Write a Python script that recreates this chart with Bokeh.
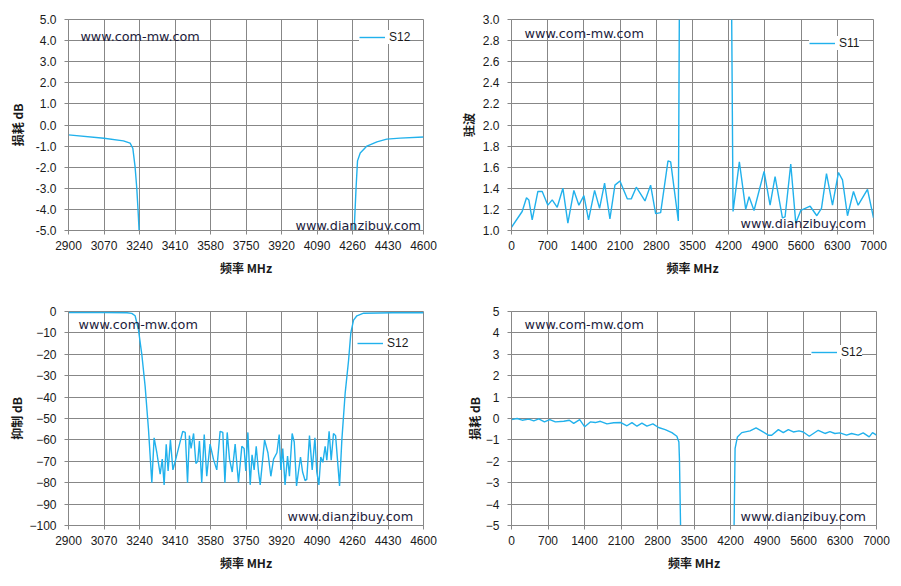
from bokeh.plotting import figure
from bokeh.layouts import column, row
from bokeh.models import Range1d, FixedTicker, NumeralTickFormatter, Label
from bokeh.embed import file_html
from bokeh.resources import INLINE

nan = float("nan")

# ---------------- data ----------------
# Panel 1: S12 insertion loss, zoom 2900-4600 MHz
p1_freq = [2900, 3070, 3163, 3195, 3208, 3219, 3227, 3234, 3238,
           nan,
           4268, 4277, 4284, 4297, 4329, 4377, 4424, 4488, 4600]
p1_s12 = [-0.47, -0.63, -0.75, -0.86, -1.1, -2.0, -3.0, -4.2, -5.0,
          nan,
          -5.0, -3.0, -1.7, -1.33, -1.0, -0.8, -0.67, -0.62, -0.57]

# Panel 2: S11 VSWR, 0-7000 MHz
p2_freq = [0, 206, 290, 335, 400, 510, 594, 703, 787, 884, 994, 1090, 1206, 1303,
           1400, 1490, 1607, 1703, 1800, 1903, 2000, 2097, 2239, 2316, 2413, 2581,
           2690, 2787, 2884, 3026, 3078, 3226, 3245,
           nan,
           4258, 4284, 4406, 4529, 4594, 4690, 4884, 5000, 5097, 5239, 5290, 5400,
           5497, 5594, 5775, 5904, 5994, 6091, 6207, 6323, 6400, 6497, 6613, 6703,
           6884, 7000]
p2_s11 = [1.03, 1.18, 1.31, 1.29, 1.10, 1.37, 1.37, 1.24, 1.29, 1.22, 1.40, 1.07, 1.38, 1.24,
          1.33, 1.10, 1.38, 1.21, 1.45, 1.11, 1.43, 1.47, 1.30, 1.30, 1.41, 1.28,
          1.43, 1.16, 1.17, 1.66, 1.65, 1.09, 3.0,
          nan,
          3.0, 1.18, 1.65, 1.20, 1.32, 1.19, 1.56, 1.24, 1.51, 1.12, 1.13, 1.63,
          1.07, 1.19, 1.23, 1.14, 1.21, 1.54, 1.24, 1.55, 1.48, 1.14, 1.37, 1.24,
          1.39, 1.12]

# Panel 3: S12 rejection, 2900-4600 MHz
p3_freq = [2900, 3070, 3180, 3203, 3219, 3235, 3251, 3267, 3283, 3299,
           3310, 3323, 3339, 3349, 3358, 3368, 3377, 3388, 3400, 3411, 3447, 3459,
           3470, 3479, 3487, 3499, 3510, 3519, 3527, 3538, 3550, 3562, 3578, 3594,
           3610, 3626, 3639, 3649, 3660, 3671, 3684, 3698, 3714, 3730, 3741, 3749,
           3759, 3770, 3779, 3789, 3799, 3810, 3818, 3839, 3855, 3869, 3882, 3898,
           3909, 3917, 3926, 3937, 3949, 3958, 3971, 3981, 3992, 4001, 4011, 4021,
           4033, 4041, 4054, 4067, 4080, 4089, 4099, 4108, 4118, 4129, 4137, 4148,
           4158, 4169, 4179, 4198, 4209, 4225, 4241, 4252, 4265, 4281, 4313, 4450, 4600]
p3_s12 = [-0.5, -0.5, -0.6, -0.9, -2.0, -8.5, -20, -35, -55, -80,
          -59, -66, -76, -69, -81, -62, -74.5, -60, -74, -70, -56, -56.5,
          -80, -58, -64, -57, -71, -70, -60.5, -80, -57.5, -77, -62, -69,
          -74, -56, -56.5, -80, -56.5, -69, -75, -62, -80, -63, -64, -74.5,
          -56.5, -81, -67, -74, -63, -75, -81, -60, -66, -77, -69, -66,
          -57.5, -74, -64, -81, -67.5, -77, -57, -61, -81.5, -75, -68, -75,
          -79, -78.5, -58, -74, -59, -75, -81, -68, -70.5, -63, -69.5, -56,
          -69.5, -57, -58, -81.5, -60, -38, -23, -10, -4, -2, -0.8, -0.6, -0.6]

# Panel 4: S12 insertion loss, 0-7000 MHz
p4_freq = [0, 108, 204, 332, 427, 523, 632, 734, 842, 1002, 1110, 1193, 1308, 1404,
           1512, 1608, 1704, 1831, 1959, 2099, 2214, 2310, 2406, 2501, 2597, 2712,
           2820, 2948, 3076, 3171, 3210, 3222, 3242,
           nan,
           4269, 4288, 4333, 4416, 4575, 4690, 4799, 4926, 4990, 5118, 5213, 5309,
           5405, 5513, 5596, 5711, 5883, 6011, 6107, 6202, 6298, 6426, 6522, 6649,
           6745, 6860, 6924, 7000]
p4_s12 = [-0.05, 0.0, -0.08, -0.03, -0.11, -0.02, -0.16, -0.05, -0.16, -0.13, -0.08, -0.23, -0.05, -0.39,
          -0.16, -0.19, -0.13, -0.25, -0.20, -0.19, -0.34, -0.19, -0.36, -0.22, -0.36, -0.25,
          -0.42, -0.52, -0.66, -0.83, -1.1, -2.0, -5.0,
          nan,
          -5.0, -1.4, -0.86, -0.66, -0.58, -0.44, -0.59, -0.78, -0.78, -0.52, -0.66, -0.52,
          -0.63, -0.58, -0.63, -0.83, -0.55, -0.70, -0.61, -0.70, -0.67, -0.78, -0.70, -0.78,
          -0.67, -0.86, -0.66, -0.78]

# ticks
zoom_xticks = [2900, 3070, 3240, 3410, 3580, 3750, 3920, 4090, 4260, 4430, 4600]
wide_xticks = [0, 700, 1400, 2100, 2800, 3500, 4200, 4900, 5600, 6300, 7000]
p1_yticks = [-5, -4, -3, -2, -1, 0, 1, 2, 3, 4, 5]
p2_yticks = [1.0, 1.2, 1.4, 1.6, 1.8, 2.0, 2.2, 2.4, 2.6, 2.8, 3.0]
p3_yticks = [0, -10, -20, -30, -40, -50, -60, -70, -80, -90, -100]
p4_yticks = [-5, -4, -3, -2, -1, 0, 1, 2, 3, 4, 5]

x_title = "频率 MHz"
wm1 = "www.com-mw.com"
wm2 = "www.dianzibuy.com"

LINE = "#21B1EC"
GRID = "#878787"
TXT = "#1a1a1a"
WM = "#1c1c3c"


def make(width, height, bl, br, bt, bb, xr, yr, xticks, yticks, fmt, ytitle, ts,
         xs, ys, series, leg_loc, leg_pad, wm_a, wm_b):
    p = figure(width=width, height=height, output_backend="svg", toolbar_location=None,
               min_border_left=bl, min_border_right=br, min_border_top=bt, min_border_bottom=bb,
               x_range=Range1d(*xr), y_range=Range1d(*yr))
    p.outline_line_color = GRID
    p.background_fill_color = "white"
    p.border_fill_color = "white"
    p.line(xs, ys, line_color=LINE, line_width=1.4, legend_label=series)
    for ax in (p.xaxis, p.yaxis):
        ax.axis_line_color = GRID
        ax.major_tick_line_color = GRID
        ax.major_tick_out = 4
        ax.major_tick_in = 0
        ax.minor_tick_line_color = None
        ax.major_label_text_font = "Liberation Sans"
        ax.major_label_text_font_size = "12px"
        ax.major_label_text_color = TXT
        ax.axis_label_text_font = "Noto Sans CJK SC"
        ax.axis_label_text_font_style = "bold"
        ax.axis_label_text_font_size = "12px"
        ax.axis_label_text_color = TXT
    p.xaxis.ticker = FixedTicker(ticks=xticks)
    p.yaxis.ticker = FixedTicker(ticks=yticks)
    if fmt:
        p.yaxis.formatter = NumeralTickFormatter(format=fmt)
    p.xaxis.major_label_standoff = 6
    p.yaxis.major_label_standoff = 8
    p.xaxis.axis_label = x_title
    p.xaxis.axis_label_standoff = 6
    p.yaxis.axis_label = ytitle
    p.yaxis.axis_label_standoff = ts
    p.grid.grid_line_color = GRID
    p.grid.grid_line_width = 1
    p.xgrid.ticker = FixedTicker(ticks=xticks)
    p.ygrid.ticker = FixedTicker(ticks=yticks)

    lg = p.legend[0]
    lg.location = leg_loc
    lg.border_line_color = None
    lg.background_fill_color = "white"
    lg.background_fill_alpha = 1.0
    lg.padding = leg_pad
    lg.margin = 0
    lg.spacing = 0
    lg.glyph_width = 26
    lg.glyph_height = 14
    lg.label_height = 14
    lg.label_standoff = 4
    lg.label_text_font = "Liberation Sans"
    lg.label_text_font_size = "12px"
    lg.label_text_color = TXT

    for (x, y, t) in (wm_a, wm_b):
        p.add_layout(Label(x=x, y=y, text=t, text_font="DejaVu Sans", text_font_size="12.8px",
                           text_color=WM, text_baseline="middle", text_align="left"))
    return p


p1 = make(450, 298, 68, 27, 16, 68, (2900, 4600), (-5, 5), zoom_xticks, p1_yticks, "0.0",
          "损耗 dB", 7, p1_freq, p1_s12, "S12", (291, 186), 4,
          (2957, 4.21, wm1), (3987, -4.77, wm2))
p2 = make(443, 298, 61, 20, 19, 66, (0, 7000), (1.0, 3.0), wide_xticks, p2_yticks, "0.0",
          "驻波", 3, p2_freq, p2_s11, "S11", (298, 180), 8,
          (251, 2.87, wm1), (4429, 1.065, wm2))
p3 = make(450, 280, 68, 27, 11, 53, (2900, 4600), (-100, 0), zoom_xticks, p3_yticks, None,
          "抑制 dB", 1, p3_freq, p3_s12, "S12", (289, 175), 8,
          (2948, -6.0, wm1), (3949, -95.8, wm2))
p4 = make(443, 280, 61, 17, 13, 53, (0, 7000), (-5, 5), wide_xticks, p4_yticks, None,
          "损耗 dB", 0, p4_freq, p4_s12, "S12", (300, 166), 8,
          (249, 4.39, wm1), (4392, -4.58, wm2))

layout = column(row(p1, p2), row(p3, p4))
open("out.html", "w").write(file_html(layout, INLINE))
